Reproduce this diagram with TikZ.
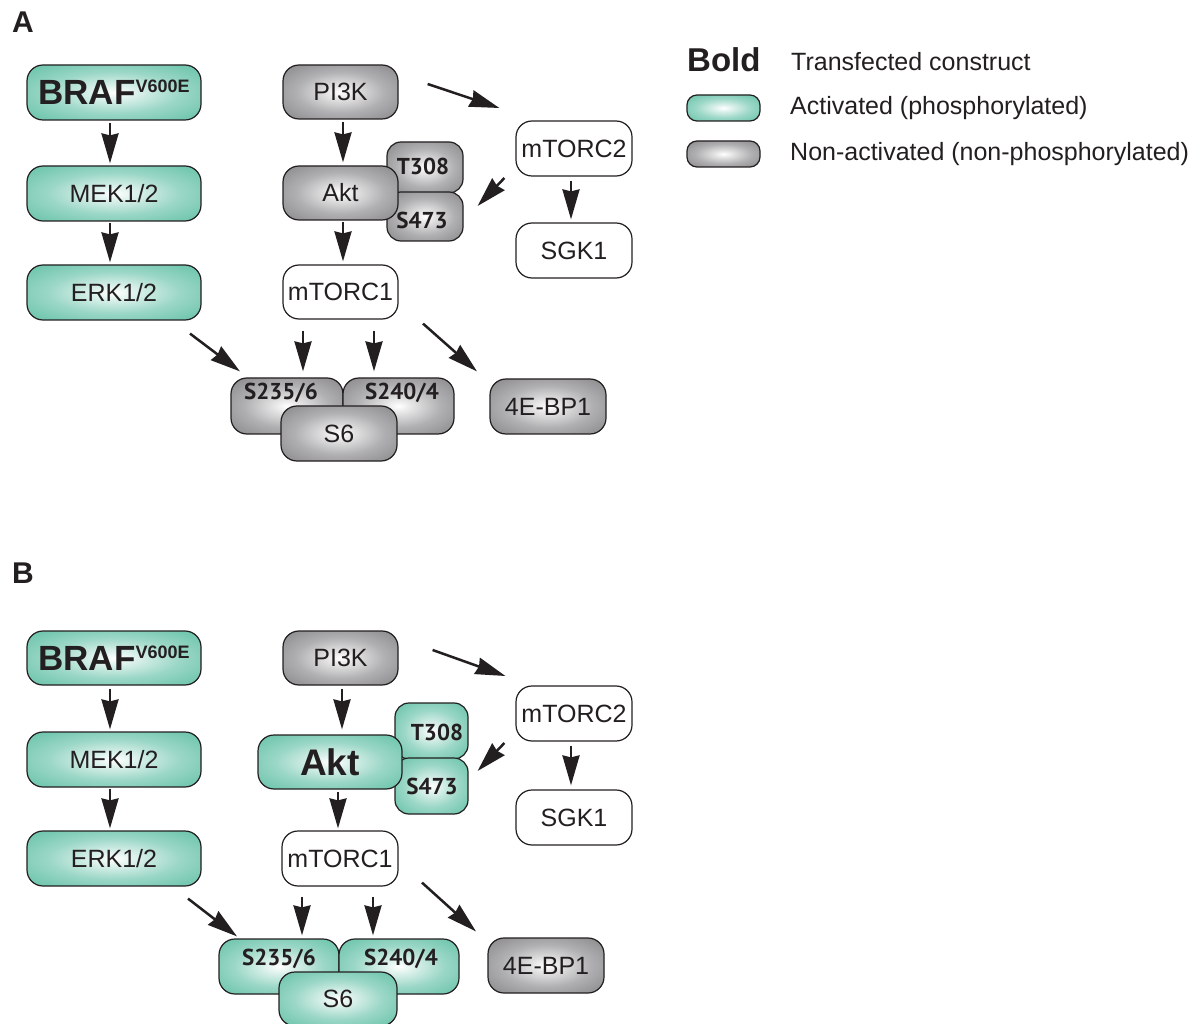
\documentclass[tikz,border=0pt]{standalone}
\usepackage{fontspec}
\setmainfont{Liberation Sans}
\newfontfamily\sitefont{PT Sans}
\usetikzlibrary{arrows.meta}
\definecolor{tealc}{RGB}{100,193,167}
\definecolor{greyc}{RGB}{134,134,137}
\definecolor{edgec}{RGB}{35,31,32}
\colorlet{tealA}{white!75!tealc}
\colorlet{tealB}{white!35!tealc}
\colorlet{greyA}{white!75!greyc}
\colorlet{greyB}{white!35!greyc}
\pgfdeclareradialshading{tealrad}{\pgfpoint{0bp}{0bp}}{color(0bp)=(white); color(7bp)=(tealA); color(19bp)=(tealB); color(36bp)=(tealc); color(50bp)=(tealc)}
\pgfdeclareradialshading{greyrad}{\pgfpoint{0bp}{0bp}}{color(0bp)=(white); color(7bp)=(greyA); color(19bp)=(greyB); color(36bp)=(greyc); color(50bp)=(greyc)}
\tikzset{
  box/.style 2 args={draw=edgec, line width=1.2pt, rounded corners=16pt,
    minimum width=#1, minimum height=#2, inner sep=0pt, text=edgec,
    font=\fontsize{25}{28}\selectfont},
  act/.style={shading=tealrad},
  non/.style={shading=greyrad},
  wht/.style={fill=white},
  sbox/.style 2 args={box={#1}{#2}, rounded corners=14pt},
  site/.style={text=edgec, font=\sitefont\bfseries\fontsize{23}{26}\selectfont, inner sep=0pt},
  big/.style={font=\bfseries\fontsize{35}{38}\selectfont},
  panel/.style={font=\bfseries\fontsize{30}{32}\selectfont, text=edgec, inner sep=0pt},
  arr/.style={line width=2.5pt, draw=edgec, -{Stealth[length=30pt,width=17pt,inset=2pt]}},
  legtext/.style={anchor=west, inner sep=0pt, text=edgec, font=\fontsize{25}{28}\selectfont}
}
\newcommand{\brafl}{BRAF\raisebox{12pt}{\fontsize{18}{20}\selectfont V600E}}
\begin{document}
\begin{tikzpicture}[x=1pt,y=-1pt]
\useasboundingbox[fill=white] (0,0) rectangle (1203,1024);

% ---------------- Panel A ----------------
\node[panel] (labA) at (23,22) {A};
\node[box={174pt}{55pt}, act, big] (brafA) at (114,92.5) {\brafl};
\node[box={174pt}{55pt}, act] (mekA) at (114,193.5) {MEK1/2};
\node[box={174pt}{55pt}, act] (erkA) at (114,292.5) {ERK1/2};
\node[box={115pt}{54pt}, non] (pikA) at (340.5,92) {PI3K};
\node[sbox={76pt}{51pt}, non] (tA) at (425,167.5) {};
\node[sbox={76pt}{49pt}, non] (sA) at (425,216.5) {};
\node[box={115pt}{54pt}, non] (aktA) at (340.5,193) {Akt};
\node[site] (tAl) at (423,166) {T308};
\node[site] (sAl) at (422,220) {S473};
\node[box={115pt}{54pt}, wht] (mc1A) at (340.5,292) {mTORC1};
\node[box={116pt}{55pt}, wht] (mc2A) at (574,148.5) {mTORC2};
\node[box={116pt}{55pt}, wht] (sgkA) at (574,250.5) {SGK1};
\node[box={112pt}{56pt}, non] (p1A) at (287,406) {};
\node[box={111pt}{56pt}, non] (p2A) at (398.5,406) {};
\node[box={116pt}{55pt}, non] (s6A) at (339,433.5) {S6};
\node[site] (p1Al) at (281,393) {S235/6};
\node[site] (p2Al) at (402,393) {S240/4};
\node[box={116pt}{55pt}, non] (ebpA) at (548,406.5) {4E-BP1};

\draw[arr] ([shift={(-4,2)}]brafA.south) -- ([shift={(-4,-2)}]mekA.north);
\draw[arr] ([shift={(-4,1)}]mekA.south) -- ([shift={(-4,-2)}]erkA.north);
\draw[arr] ([shift={(2.5,2)}]pikA.south) -- ([shift={(2.5,-3)}]aktA.north);
\draw[arr] ([shift={(2.5,1)}]aktA.south) -- ([shift={(2.5,-3)}]mc1A.north);
\draw[arr] ([shift={(29,-8)}]pikA.east) -- ([shift={(-16,-40.5)}]mc2A.west);
\draw[arr] ([shift={(-11,29.5)}]mc2A.west) -- ([shift={(14,-10.5)}]sA.east);
\draw[arr] ([shift={(-3,4)}]mc2A.south) -- ([shift={(-3,-3)}]sgkA.north);
\draw[arr] ([shift={(76,13)}]erkA.south) -- ([shift={(-47,-6)}]p1A.north);
\draw[arr] ([shift={(-37.5,11)}]mc1A.south) -- ([shift={(16,-6)}]p1A.north);
\draw[arr] ([shift={(33.5,11)}]mc1A.south) -- ([shift={(-24.5,-6)}]p2A.north);
\draw[arr] ([shift={(82.5,4)}]mc1A.south) -- ([shift={(-71,-7)}]ebpA.north);

% ---------------- Legend ----------------
\node[anchor=west, inner sep=0pt, text=edgec, font=\bfseries\fontsize{33}{36}\selectfont] (legB) at (687,60) {Bold};
\node[legtext] (legBt) at (791,62) {Transfected construct};
\node[box={73pt}{26pt}, act, rounded corners=10pt] (legA) at (723.5,108) {};
\node[legtext] (legAt) at (790,108) {Activated (phosphorylated)};
\node[box={73pt}{26pt}, non, rounded corners=10pt] (legN) at (723.5,154) {};
\node[legtext] (legNt) at (790,154) {Non-activated (non-phosphorylated)};

% ---------------- Panel B ----------------
\node[panel] (labB) at (23,573) {B};
\node[box={174pt}{54pt}, act, big] (brafB) at (114,658) {\brafl};
\node[box={174pt}{55pt}, act] (mekB) at (114,759.5) {MEK1/2};
\node[box={174pt}{55pt}, act] (erkB) at (114,858.5) {ERK1/2};
\node[box={115pt}{54pt}, non] (pikB) at (340.5,658) {PI3K};
\node[sbox={73pt}{56pt}, act] (tB) at (431.5,731) {};
\node[sbox={73pt}{56pt}, act] (sB) at (431.5,786) {};
\node[box={144pt}{54pt}, act, font=\bfseries\fontsize{37}{40}\selectfont] (aktB) at (330,762) {Akt};
\node[site] (tBl) at (437,732) {T308};
\node[site] (sBl) at (432,786) {S473};
\node[box={116pt}{55pt}, wht] (mc1B) at (340,858.5) {mTORC1};
\node[box={116pt}{55pt}, wht] (mc2B) at (574,713.5) {mTORC2};
\node[box={116pt}{55pt}, wht] (sgkB) at (574,817.5) {SGK1};
\node[box={120pt}{55pt}, act] (p1B) at (279,966.5) {};
\node[box={120pt}{55pt}, act] (p2B) at (399,966.5) {};
\node[box={118pt}{54pt}, act] (s6B) at (338,999) {S6};
\node[site] (p1Bl) at (279,959) {S235/6};
\node[site] (p2Bl) at (401,959) {S240/4};
\node[box={116pt}{55pt}, non] (ebpB) at (546,965.5) {4E-BP1};

\draw[arr] ([shift={(-4,3)}]brafB.south) -- ([shift={(-4,-2)}]mekB.north);
\draw[arr] ([shift={(-4,1)}]mekB.south) -- ([shift={(-4,-2)}]erkB.north);
\draw[arr] ([shift={(1.5,3)}]pikB.south) -- ([shift={(12,-5)}]aktB.north);
\draw[arr] ([shift={(8,2)}]aktB.south) -- ([shift={(-2,-2)}]mc1B.north);
\draw[arr] ([shift={(34,-8)}]pikB.east) -- ([shift={(-10,-37.5)}]mc2B.west);
\draw[arr] ([shift={(-11,29.5)}]mc2B.west) -- ([shift={(9,-15)}]sB.east);
\draw[arr] ([shift={(-3,4)}]mc2B.south) -- ([shift={(-3,-4)}]sgkB.north);
\draw[arr] ([shift={(74,12)}]erkB.south) -- ([shift={(-42,-2)}]p1B.north);
\draw[arr] ([shift={(-38,10)}]mc1B.south) -- ([shift={(23,-3)}]p1B.north);
\draw[arr] ([shift={(33,10)}]mc1B.south) -- ([shift={(-26,-3)}]p2B.north);
\draw[arr] ([shift={(82,-4)}]mc1B.south) -- ([shift={(-70,-6)}]ebpB.north);
\end{tikzpicture}
\end{document}
